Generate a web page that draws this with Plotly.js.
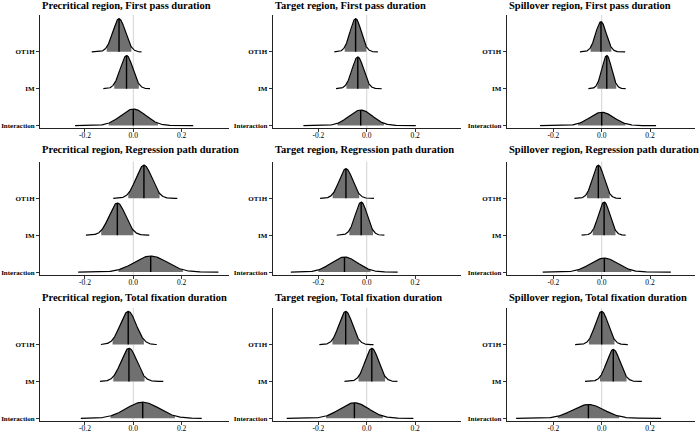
<!DOCTYPE html>
<html>
<head>
<meta charset="utf-8">
<script src="https://cdn.plot.ly/plotly-3.0.1.min.js"></script>
<style>html,body{margin:0;padding:0;background:#fff;}#chart{width:700px;height:432px;}</style>
</head>
<body>
<div id="chart"></div>
<script>
// ---- Data ----
const terms = ["OT1H", "IM", "Interaction"];
const panelTitles = [
  "Precritical region, First pass duration",
  "Target region, First pass duration",
  "Spillover region, First pass duration",
  "Precritical region, Regression path duration",
  "Target region, Regression path duration",
  "Spillover region, Regression path duration",
  "Precritical region, Total fixation duration",
  "Target region, Total fixation duration",
  "Spillover region, Total fixation duration"
];
const xTickVals = [-0.2, 0, 0.2];
const xTickText = ["-0.2", "0.0", "0.2"];

// posterior summaries per panel (row-major order of the panels)
const medianOT1H = [-0.059, -0.046, -0.003, 0.044, -0.086, -0.014, -0.021, -0.087, 0.000];
const sdOT1H     = [0.026, 0.023, 0.022, 0.033, 0.028, 0.024, 0.033, 0.028, 0.027];
const minOT1H    = [-0.172, -0.134, -0.090, -0.083, -0.193, -0.113, -0.134, -0.196, -0.110];
const maxOT1H    = [0.034, 0.046, 0.097, 0.182, 0.030, 0.080, 0.097, 0.028, 0.108];

const medianIM = [-0.028, -0.037, 0.021, -0.066, -0.023, 0.010, -0.018, 0.021, 0.048];
const sdIM     = [0.026, 0.024, 0.020, 0.034, 0.025, 0.024, 0.033, 0.028, 0.028];
const minIM    = [-0.124, -0.127, -0.055, -0.196, -0.124, -0.083, -0.138, -0.092, -0.069];
const maxIM    = [0.069, 0.062, 0.099, 0.066, 0.073, 0.099, 0.124, 0.127, 0.166];

const medianInt = [0.000, -0.025, 0.000, 0.072, -0.092, 0.011, 0.039, -0.051, -0.055];
const sdInt     = [0.052, 0.049, 0.050, 0.068, 0.055, 0.057, 0.068, 0.060, 0.065];
const minInt    = [-0.241, -0.262, -0.255, -0.228, -0.314, -0.244, -0.217, -0.331, -0.354];
const maxInt    = [0.248, 0.203, 0.225, 0.352, 0.128, 0.286, 0.283, 0.193, 0.246];

// ---- Layout geometry (pixels) ----
const W = 700, H = 432;
const colPx = [[40, 229], [272.7, 461], [506.7, 695]];
const colRange = [[-0.386, 0.396], [-0.389, 0.390], [-0.393, 0.386]];
const rowPx = [[15, 128], [161.5, 274.5], [307.7, 420.7]]; // top, bottom
const titleY = [5.2, 149.8, 297.6];
const yRange = [-0.065, 3.0];
const ridgeScale = 0.9;
const SERIF = "Liberation Serif, Times New Roman, serif";
const FILL = "#707070";

function pdf(x, m, s) { return Math.exp(-0.5 * ((x - m) / s) ** 2) / (s * Math.sqrt(2 * Math.PI)); }

const traces = [];
const layout = {
  width: W, height: H,
  margin: {l: 0, r: 0, t: 0, b: 0, pad: 0},
  paper_bgcolor: "#fff", plot_bgcolor: "#fff",
  showlegend: false,
  shapes: [], annotations: []
};

for (let p = 0; p < 9; p++) {
  const r = Math.floor(p / 3), c = p % 3;
  const sfx = p === 0 ? "" : String(p + 1);
  const xa = "x" + sfx, ya = "y" + sfx;
  const med = [medianOT1H[p], medianIM[p], medianInt[p]];
  const sds = [sdOT1H[p], sdIM[p], sdInt[p]];
  const mins = [minOT1H[p], minIM[p], minInt[p]];
  const maxs = [maxOT1H[p], maxIM[p], maxInt[p]];
  const base = [2, 1, 0];
  const peak = Math.max(...sds.map((s, i) => pdf(med[i], med[i], s)));
  const k = ridgeScale / peak;

  for (let i = 0; i < 3; i++) {
    const m = med[i], s = sds[i], b = base[i];
    const n = 240;
    const xs = [], ys = [];
    for (let j = 0; j <= n; j++) {
      const x = mins[i] + (maxs[i] - mins[i]) * j / n;
      xs.push(x); ys.push(b + k * pdf(x, m, s));
    }
    // white full area
    traces.push({x: xs.concat([maxs[i], mins[i]]), y: ys.concat([b, b]), xaxis: xa, yaxis: ya,
      mode: "lines", fill: "toself", fillcolor: "#ffffff", line: {width: 0}, hoverinfo: "skip"});
    // 95% interval shading
    const lo = m - 1.96 * s, hi = m + 1.96 * s;
    const cx = [], cy = [];
    for (let j = 0; j <= 120; j++) {
      const x = lo + (hi - lo) * j / 120;
      cx.push(x); cy.push(b + k * pdf(x, m, s));
    }
    traces.push({x: cx.concat([hi, lo]), y: cy.concat([b, b]), xaxis: xa, yaxis: ya,
      mode: "lines", fill: "toself", fillcolor: FILL, line: {width: 0}, hoverinfo: "skip"});
    // outline
    traces.push({x: xs, y: ys, xaxis: xa, yaxis: ya, mode: "lines",
      line: {color: "#000", width: 1.2}, hoverinfo: "skip"});
    // median line
    traces.push({x: [m, m], y: [b, b + k * pdf(m, m, s)], xaxis: xa, yaxis: ya, mode: "lines",
      line: {color: "#000", width: 1.4}, hoverinfo: "skip"});
  }

  const xd = [colPx[c][0] / W, colPx[c][1] / W];
  const yd = [1 - rowPx[r][1] / H, 1 - rowPx[r][0] / H];
  layout["xaxis" + sfx] = {
    domain: xd, range: colRange[c], anchor: ya, showgrid: false, zeroline: false,
    showline: true, linecolor: "#222", linewidth: 1, ticks: "outside", ticklen: 3, tickwidth: 1, tickcolor: "#333",
    tickvals: xTickVals, ticktext: xTickText, tickfont: {family: SERIF, size: 7.5, color: "#000"},
    ticklabelstandoff: -3, fixedrange: true
  };
  layout["yaxis" + sfx] = {
    domain: yd, range: yRange, anchor: xa, showgrid: false, zeroline: false,
    showline: true, linecolor: "#222", linewidth: 1, ticks: "outside", ticklen: 3, tickwidth: 1, tickcolor: "#333",
    tickvals: base, ticktext: terms, tickfont: {family: SERIF, size: 7, color: "#000", weight: "bold"}, fixedrange: true
  };
  layout.shapes.push({type: "line", xref: xa, yref: ya + " domain", x0: 0, x1: 0, y0: 0, y1: 1,
    line: {color: "#d3d3d3", width: 1}, layer: "below"});
  layout.annotations.push({text: panelTitles[p], xref: "paper", yref: "paper",
    x: colPx[c][0] / W, y: 1 - titleY[r] / H, xanchor: "left", yanchor: "middle", showarrow: false,
    font: {family: SERIF, size: 10.5, color: "#000", weight: "bold"}});
}

Plotly.newPlot("chart", traces, layout, {staticPlot: true, displayModeBar: false});
</script>
</body>
</html>
